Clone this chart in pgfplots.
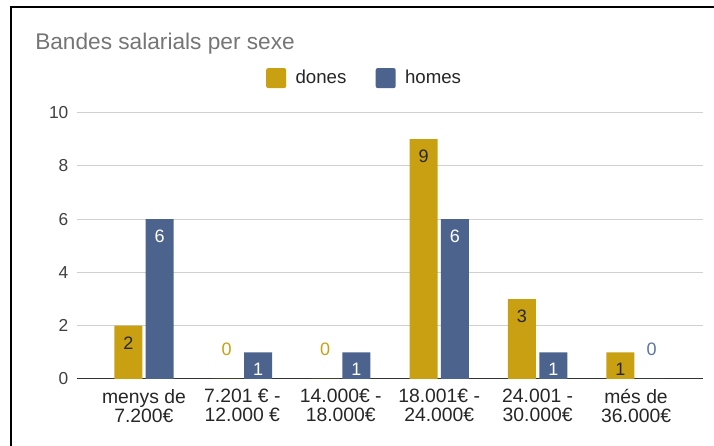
\documentclass[border=0pt]{standalone}
\usepackage{pgfplots}
\pgfplotsset{compat=1.18}
\usepackage{fontspec}
\setmainfont{Liberation Sans}
\definecolor{dones}{HTML}{C9A012}
\definecolor{homes}{HTML}{4C638D}
\definecolor{homesl}{HTML}{5A74A0}
\definecolor{gridc}{HTML}{D0D0D0}
\definecolor{titlec}{HTML}{757575}

\begin{document}
\begin{tikzpicture}
\path[use as bounding box] (0pt,0pt) rectangle (535.5pt,334.5pt);
\draw[line width=1.5pt] (8.25pt,0pt) -- (8.25pt,329.25pt) -- (535.5pt,329.25pt);
\node[anchor=base west, text=titlec, font=\fontsize{17}{19}\selectfont, inner sep=0pt] at (26.25pt,297pt) {Bandes salarials per sexe};
\begin{axis}[at={(57.75pt,50.25pt)}, anchor=south west, scale only axis,
  width=469.5pt, height=199.9pt,
  /pgf/number format/assume math mode=true,
  ybar=2.5pt, bar width=21pt,
  ymin=0, ymax=10, ytick={0,2,...,10},
  xmin=-0.68, xmax=5.68, xtick={0,...,5},
  xticklabels={{menys de\\7.200€},{7.201 € -\\12.000 €},{14.000€ -\\18.000€},{18.001€ -\\24.000€},{24.001 -\\30.000€},{més de\\36.000€}},
  axis x line*=bottom, axis y line*=left,
  x axis line style={draw=black!80, line width=0.75pt, -},
  y axis line style={draw=none},
  major tick length=0pt,
  ymajorgrids, grid style={gridc, line width=0.75pt},
  yticklabel style={font=\fontsize{13}{15}\selectfont, text=black!75, xshift=-3pt},
  xticklabel style={font=\fontsize{14.5}{14.3}\selectfont, text=black!85, align=center, yshift=-4pt},
  legend columns=2,
  legend style={at={(rel axis cs:0.46,1.129)}, anchor=center, draw=none, font=\fontsize{14}{16}\selectfont, text=black!85, /tikz/every even column/.append style={column sep=20pt}},
  legend image code/.code={\fill[#1, rounded corners=1.5pt] (0pt,-7.5pt) rectangle (15pt,7.5pt); \path (20pt,0pt);},
  every node near coord/.append style={font=\fontsize{13.5}{15}\selectfont, anchor=center},
  coordinate style/.condition={y>0}{yshift=-13pt},
  coordinate style/.condition={y==0}{yshift=22.5pt},
]
\addplot[fill=dones, draw=none,
  nodes near coords={\pgfmathfloatifflags{\pgfplotspointmeta}{0}{\textcolor{dones}{0}}{\textcolor{black!85}{\pgfmathprintnumber{\pgfplotspointmeta}}}}]
  coordinates {(0,2) (1,0) (2,0) (3,9) (4,3) (5,1)};
\addlegendentry{dones}
\addplot[fill=homes, draw=none,
  nodes near coords={\pgfmathfloatifflags{\pgfplotspointmeta}{0}{\textcolor{homesl}{0}}{\textcolor{white}{\pgfmathprintnumber{\pgfplotspointmeta}}}}]
  coordinates {(0,6) (1,1) (2,1) (3,6) (4,1) (5,0)};
\addlegendentry{homes}
\end{axis}
\end{tikzpicture}
\end{document}
